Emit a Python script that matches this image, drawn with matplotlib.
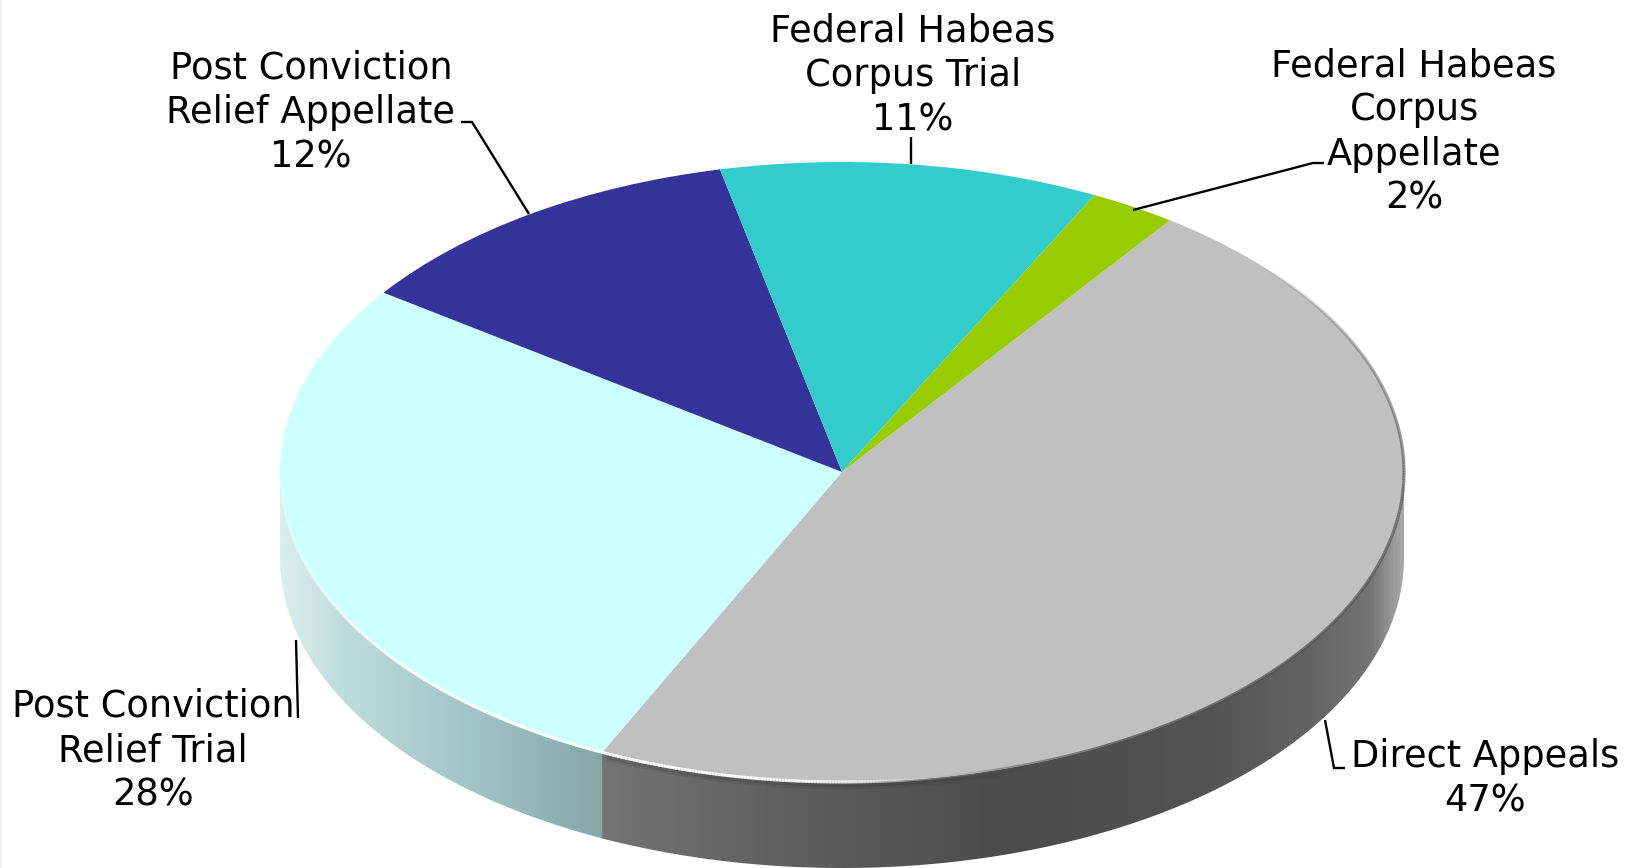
import numpy as np
import matplotlib
matplotlib.use('Agg')
import matplotlib.pyplot as plt
from matplotlib.patches import Polygon
from matplotlib.collections import LineCollection
from matplotlib.colors import LinearSegmentedColormap, to_rgb

# ---- data
names = ['Direct Appeals', 'Post Conviction\nRelief Trial', 'Post Conviction\nRelief Appellate',
         'Federal Habeas\nCorpus Trial', 'Federal Habeas\nCorpus\nAppellate']
values = [47, 28, 12, 11, 2]                # printed on the labels
slice_shares = [47.1, 27.8, 11.7, 10.9, 2.5]
colors = ['#C0C0C0', '#CCFFFF', '#333399', '#33CCCC', '#99CC00']

W, H = 1625, 868
cx, cy = 842, 472      # pie centre in pixels
a, b = 562, 310        # ellipse radii in pixels
depth = 86 / b         # wall height in pie units
start = 54.3


def px(x, y):
    # pixel position -> pie units
    return (x - cx) / a, (cy - y) / b


fig = plt.figure(figsize=(W / 100, H / 100), dpi=100, facecolor='white')
ax = fig.add_axes([0, 0, 1, 1])
wedges, _ = ax.pie(slice_shares, colors=colors, startangle=start, counterclock=False,
                   wedgeprops={'linewidth': 0, 'edgecolor': 'none', 'zorder': 3})
ax.set_aspect('auto')

# ---- side wall, one gradient per visible slice (cyan first, grey overlaps its seam)
edges = start - np.cumsum([0] + slice_shares) * 3.6
wall_stops = {
    1: [(280, '#dceeee'), (340, '#bedcdc'), (450, '#a3c6c6'), (598, '#80a2a2')],
    0: [(598, '#747474'), (800, '#5e5e5e'), (1000, '#4c4c4c'), (1200, '#525252'),
        (1310, '#636363'), (1375, '#757575'), (1404, '#a8a8a8')],
}
for i, stops in wall_stops.items():
    t1 = min(edges[i], 0) + (1.5 if i == 1 else 0)
    t2 = max(edges[i + 1], -180)
    th = np.radians(np.linspace(t1, t2, 200))
    x, y = np.cos(th), np.sin(th)
    outline = np.r_[np.c_[x, y], np.c_[x, y - depth][::-1]]
    x0, x1 = stops[0][0], stops[-1][0]
    cmap = LinearSegmentedColormap.from_list(
        'wall', [((p - x0) / (x1 - x0), c) for p, c in stops])
    im = ax.imshow(np.linspace(0, 1, 600)[None, :], cmap=cmap, aspect='auto', zorder=1,
                   extent=(px(x0, 0)[0], px(x1 + 25, 0)[0] if i == 1 else px(x1, 0)[0],
                           -1 - depth - 0.02, 0.02))
    clip = Polygon(outline, closed=True, transform=ax.transData, facecolor='none', edgecolor='none')
    ax.add_patch(clip)
    im.set_clip_path(clip)

# ---- bevel on the rim of the top face
th = np.linspace(-180, 60, 800)
rad = np.radians(th)
pts = np.c_[np.cos(rad), np.sin(rad)]
segs = np.stack([pts[:-1], pts[1:]], axis=1)
mid = (th[:-1] + th[1:]) / 2
white_a = np.interp(mid, [-180, -165, -140, -100, -88, -74], [0, 0.35, 0.95, 1, 0.8, 0])
dark_a = np.interp(mid, [-90, -60, 0, 25, 42], [0, 0.8, 0.7, 0.4, 0])
white = np.array(to_rgb('#ffffff'))
dark = np.array(to_rgb('#505050'))
rgba = np.zeros((len(mid), 4))
for k in range(len(mid)):
    w = white_a[k] / max(white_a[k] + dark_a[k], 1e-6)
    rgba[k, :3] = w * white + (1 - w) * dark
    rgba[k, 3] = max(white_a[k], dark_a[k])
ax.add_collection(LineCollection(segs, colors=rgba, linewidths=2.2, zorder=4, capstyle='butt'))

# soft shadow just under the white edge of the grey wall
for off, alpha in [(3, 0.12), (5.5, 0.07)]:
    under = segs.copy()
    under[:, :, 1] -= off / b
    shade = np.zeros((len(mid), 4))
    shade[:, 3] = np.interp(mid, [-115.3, -114.5, -85, -70], [0, alpha, alpha, 0])
    ax.add_collection(LineCollection(under, colors=shade, linewidths=2.5, zorder=2, capstyle='butt'))

ax.set_xlim(px(0, 0)[0], px(W, 0)[0])
ax.set_ylim(px(0, H)[1], px(0, 0)[1])
ax.axis('off')

# ---- labels and leaders go on a pixel overlay
ov = fig.add_axes([0, 0, 1, 1], facecolor='none')
ov.set_xlim(0, W)
ov.set_ylim(H, 0)
ov.axis('off')

label_pos = [(1485, 778.5), (153, 750.5), (311, 112.5), (913, 75.5), (1414, 132)]
leaders = [
    [(1325, 720), (1334, 768), (1345, 768)],
    [(296, 640), (298, 718)],
    [(461, 122), (472, 122), (529, 214)],
    [(911, 137), (911, 164)],
    [(1324, 163), (1313, 163), (1133, 210)],
]
for name, val, (lx, ly), line in zip(names, values, label_pos, leaders):
    ov.text(lx, ly, f'{name}\n{val}%', ha='center', va='center', ma='center',
            fontsize=26.5, linespacing=1.245, color='black', family='DejaVu Sans')
    xs, ys = zip(*line)
    ov.plot(xs, ys, color='black', lw=1.7, solid_capstyle='butt', solid_joinstyle='miter')

# faint line along the left side of the source image
ov.plot([0.5, 0.5], [0, H], color='#ececec', lw=1.2)

fig.savefig('out.png', dpi=100, facecolor='white')
